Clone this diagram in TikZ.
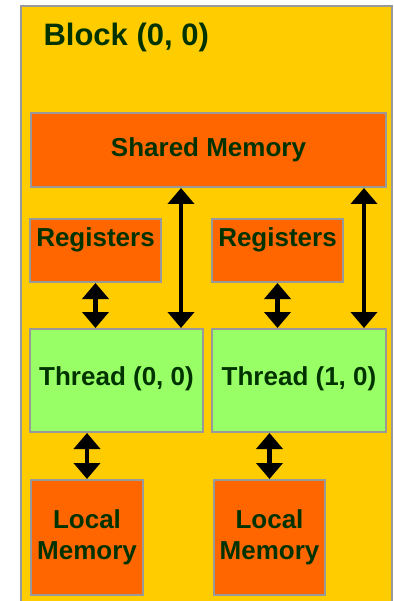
\documentclass[tikz,border=0pt]{standalone}
\usepackage{fontspec}
\setmainfont{Liberation Sans}
\usetikzlibrary{arrows.meta}
\definecolor{blockyellow}{HTML}{FFCC00}
\definecolor{memorange}{HTML}{FF6600}
\definecolor{threadgreen}{HTML}{99FF66}
\definecolor{edgegrey}{HTML}{999999}
\definecolor{labelgreen}{HTML}{003300}
\tikzset{
  boxlabel/.style={text=labelgreen, font=\fontsize{26}{31}\selectfont\bfseries, align=center},
  membox/.style={boxlabel, draw=edgegrey, line width=2pt, fill=memorange, inner sep=0pt},
  threadbox/.style={membox, fill=threadgreen},
  bothways/.style={line width=4.5pt, {Triangle[width=26pt,length=16pt]}-{Triangle[width=26pt,length=16pt]}}
}
\begin{document}
\begin{tikzpicture}[x=1pt, y=-1pt]
      \useasboundingbox (0,0) rectangle (393,601);
      \clip (0,0) rectangle (393,601);
      \draw[draw=edgegrey, line width=2pt, fill=blockyellow] (21,6) rectangle (392,630);
      \node[boxlabel, font=\fontsize{31}{37}\selectfont\bfseries, anchor=base west] (title) at (40,46) {Block (0, 0)};
      \draw
        (208.5,150) node[membox, minimum width=355pt, minimum height=74pt, text height=19pt, text depth=5pt] (shared){Shared Memory}
        (95.5,250.5) node[membox, minimum width=131pt, text height=19pt, text depth=26pt, inner ysep=9pt] (reg0){Registers}
        (277.5,250.5) node[membox, minimum width=131pt, text height=19pt, text depth=26pt, inner ysep=9pt] (reg1){Registers}
        (116.5,380.5) node[threadbox, minimum width=173pt, minimum height=103pt, text height=19pt, text depth=9pt] (thread0){Thread (0, 0)}
        (299,380.5) node[threadbox, minimum width=174pt, minimum height=103pt, text height=19pt, text depth=9pt] (thread1){Thread (1, 0)}
        (87,537.5) node[membox, minimum width=112pt, minimum height=115pt] (local0){Local\\Memory}
        (269.5,537.5) node[membox, minimum width=111pt, minimum height=115pt] (local1){Local\\Memory};
      \begin{scope}[bothways]
        \draw (reg0.south) to (reg0.south |- thread0.north);
        \draw (reg1.south) to (reg1.south |- thread1.north);
        \draw ([xshift=-23pt]thread0.north east |- shared.south) to ([xshift=-23pt]thread0.north east);
        \draw ([xshift=-23pt]thread1.north east |- shared.south) to ([xshift=-23pt]thread1.north east);
        \draw (local0.north |- thread0.south) to (local0.north);
        \draw (local1.north |- thread1.south) to (local1.north);
      \end{scope}
    \end{tikzpicture}
\end{document}
